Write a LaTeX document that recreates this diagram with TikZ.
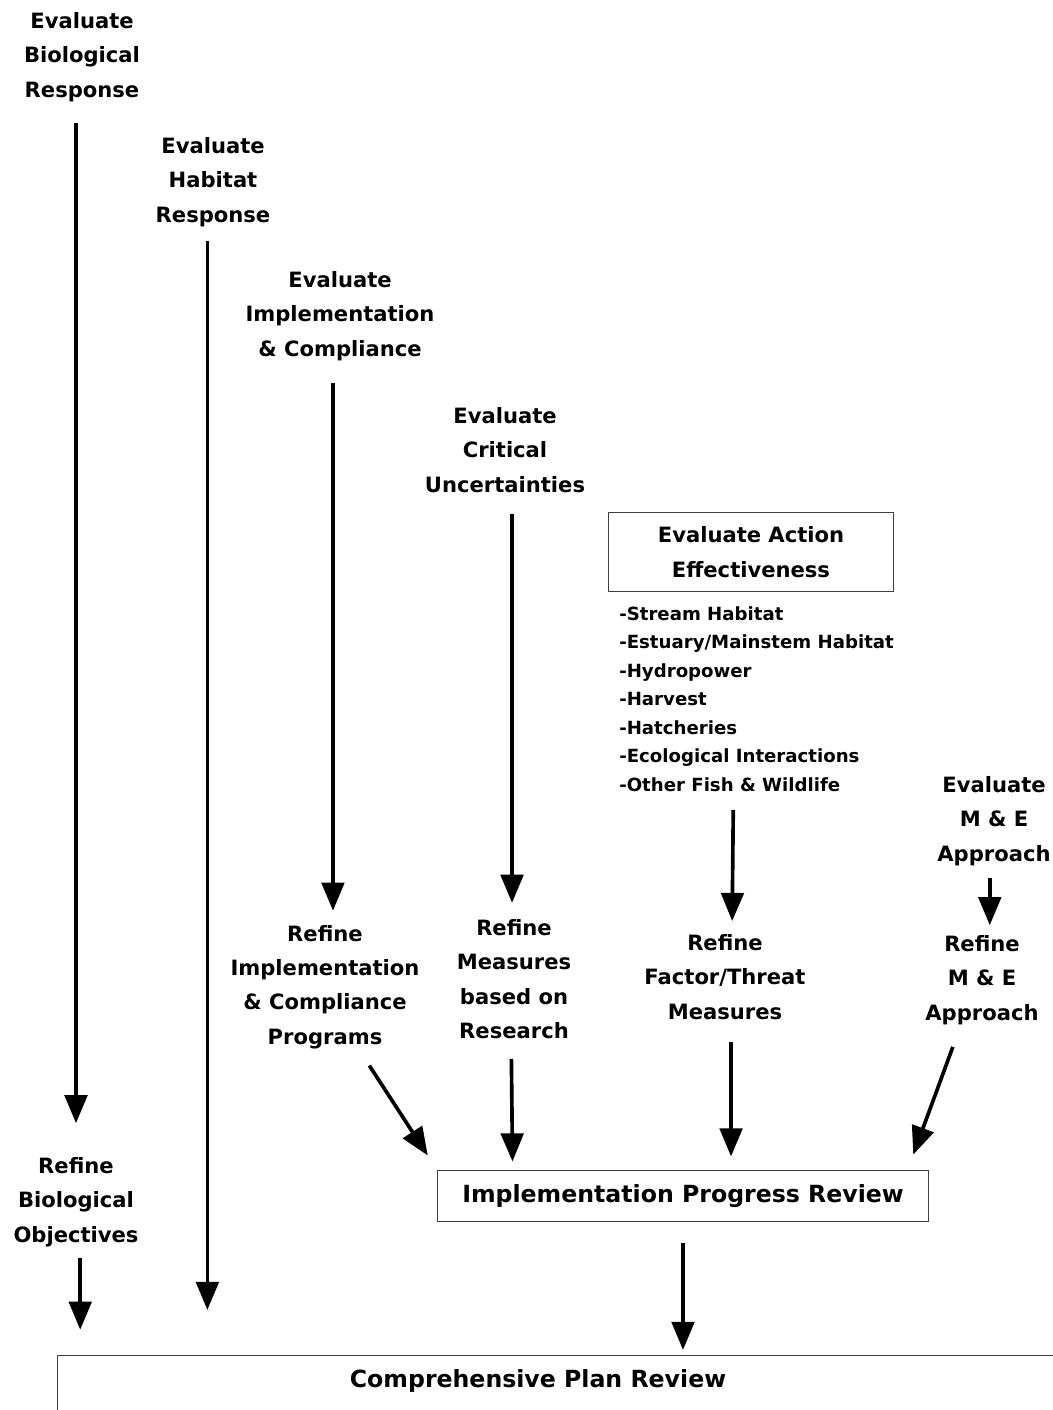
\documentclass[tikz,border=0pt]{standalone}
\usepackage{fontspec}
\setmainfont{DejaVu Sans}
\usetikzlibrary{arrows.meta}

\begin{document}
\begin{tikzpicture}[x=0.025cm,y=-0.025cm,
  lbl/.style={align=center,inner sep=0pt,font=\bfseries\fontsize{15}{24.5}\selectfont},
  boxed/.style={draw=black!75,line width=0.7pt,inner sep=0pt,align=center},
  arr/.style={-{Triangle[length=20pt,width=16pt]},line width=2.6pt}]
  \useasboundingbox (0,0) rectangle (1053,1410);
  \clip (0,0) rectangle (1053,1410);

  % Evaluate steps
  \node[lbl] (ebr) at (82,57) {Evaluate\\Biological\\Response};
  \node[lbl] (ehr) at (213,182) {Evaluate\\Habitat\\Response};
  \node[lbl] (eic) at (340,316) {Evaluate\\Implementation\\\& Compliance};
  \node[lbl] (ecu) at (505,450) {Evaluate\\Critical\\Uncertainties};
  \node[boxed,lbl,draw,minimum width=202pt,minimum height=55.5pt] (eae) at (751,552) {Evaluate Action\\Effectiveness};
  \node[align=left,anchor=north west,inner sep=0pt,font=\bfseries\fontsize{12.9}{20.3}\selectfont] (eaelist) at (619,606)
    {-Stream Habitat\\-Estuary/Mainstem Habitat\\-Hydropower\\-Harvest\\-Hatcheries\\-Ecological Interactions\\-Other Fish \& Wildlife};
  \node[lbl] (eme) at (994,821) {Evaluate\\M \& E\\Approach};

  % Refine steps
  \node[lbl] (ric) at (325,987) {Refine\\Implementation\\\& Compliance\\Programs};
  \node[lbl] (rmr) at (514,979) {Refine\\Measures\\based on\\Research};
  \node[lbl] (rft) at (725,977) {Refine\\Factor/Threat\\Measures};
  \node[lbl] (rme) at (982,980) {Refine\\M \& E\\Approach};
  \node[lbl] (rbo) at (76,1202) {Refine\\Biological\\Objectives};

  % Reviews
  \node[boxed,minimum width=348.5pt,minimum height=35.6pt,font=\bfseries\fontsize{16.8}{20}\selectfont] (ipr) at (683,1196) {Implementation Progress Review};
  \node[boxed,anchor=north west,minimum width=713.4pt,minimum height=50pt] (cprbox) at (57,1355) {};
  \node[inner sep=0pt,font=\bfseries\fontsize{16.8}{20}\selectfont] (cpr) at (538,1381) {Comprehensive Plan Review};

  % Arrows
  \draw[arr,shorten <=15pt,shorten >=24pt] (ebr.south -| rbo.north) -- (rbo.north);
  \draw[arr,shorten <=10pt,shorten >=32pt] ([xshift=-4pt]ehr.south) -- ([xshift=-4pt]ehr.south |- cprbox.north);
  \draw[arr,shorten <=15.6pt,shorten >=10pt] ([xshift=-5pt]eic.south) -- ([xshift=-5pt]eic.south |- ric.north);
  \draw[arr,shorten <=15pt,shorten >=11.4pt] ([xshift=-1.4pt]ecu.south -| rmr.north) -- ([xshift=-1.4pt]rmr.north);
  \draw[arr,shorten <=12.8pt,shorten >=9.3pt] ([xshift=6pt]eaelist.south -| rft.north) -- ([xshift=5pt]rft.north);
  \draw[arr,shorten <=8.5pt,shorten >=7pt] ([xshift=-3pt]eme.south) -- ([xshift=-3pt]eme.south |- rme.north);
  \draw[arr,shorten <=13.8pt,shorten >=12.7pt] ([xshift=24pt]ric.south) -- (ipr.north west);
  \draw[arr,shorten <=14pt,shorten >=6.4pt] ([xshift=-2pt]rmr.south) -- ([xshift=-1pt]rmr.south |- ipr.north);
  \draw[arr,shorten <=15.6pt,shorten >=10pt] ([xshift=4.3pt]rft.south) -- ([xshift=4.3pt]rft.south |- ipr.north);
  \draw[arr,shorten <=16.6pt,shorten >=12pt] ([xshift=-15pt]rme.south) -- ([xshift=-15pt]ipr.north east);
  \draw[arr,shorten <=15.6pt,shorten >=3.6pt] (ipr.south) -- (ipr.south |- cprbox.north);
  \draw[arr,shorten <=8pt,shorten >=18pt] ([xshift=3pt]rbo.south) -- ([xshift=3pt]rbo.south |- cprbox.north);
\end{tikzpicture}
\end{document}
